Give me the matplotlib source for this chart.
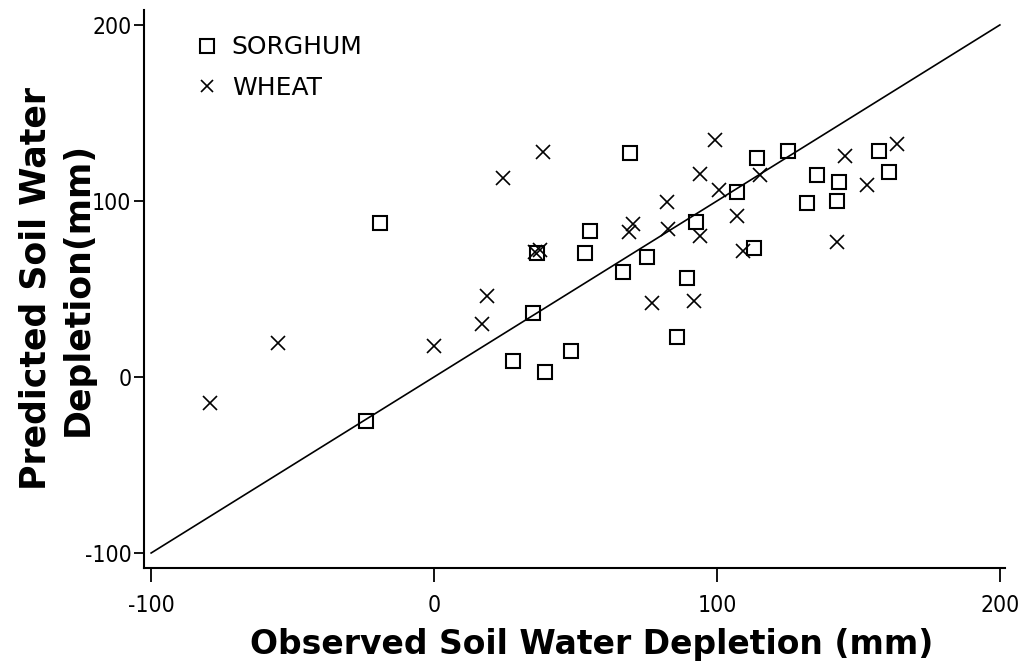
import numpy as np
import matplotlib
matplotlib.use("Agg")
import matplotlib.pyplot as plt

plt.rcParams["axes.unicode_minus"] = False

# observed vs predicted soil water depletion (mm)
sorghum_obs = [-19.1, -24.0, 34.9, 28.0, 39.2, 48.3, 36.3, 53.4, 55.1, 66.9,
               75.4, 69.3, 85.8, 89.3, 92.6, 107.0, 114.0, 125.2, 113.2, 131.9,
               135.4, 143.2, 142.3, 157.4, 160.9]
sorghum_pred = [87.3, -25.0, 36.5, 9.1, 2.7, 14.9, 70.3, 70.3, 83.0, 59.5,
                68.4, 127.4, 22.5, 56.4, 88.2, 105.3, 124.6, 128.4, 73.5, 98.7,
                114.8, 110.6, 100.0, 128.6, 116.6]

wheat_obs = [-79.2, -55.2, 0.1, 16.9, 18.6, 24.5, 38.4, 35.7, 37.5, 68.9,
             70.2, 77.1, 82.2, 82.6, 94.0, 94.0, 91.9, 99.3, 100.7, 107.0,
             109.1, 115.2, 142.3, 145.2, 152.9, 163.5]
wheat_pred = [-14.9, 19.5, 17.6, 29.9, 46.2, 113.2, 128.0, 71.2, 72.2, 82.6,
              86.8, 42.2, 99.6, 83.9, 80.1, 115.3, 43.2, 134.4, 106.3, 91.5,
              71.8, 114.8, 76.5, 125.6, 109.1, 132.2]

one_to_one = [-100, 200]
ticks = [-100, 0, 100, 200]

fig = plt.figure(figsize=(10.26, 6.65), dpi=100)
ax = fig.add_axes([0.1404, 0.1459, 0.8391, 0.8391])

ax.plot(one_to_one, one_to_one, color="black", lw=1.2, zorder=1)
ax.plot(sorghum_obs, sorghum_pred, ls="none", marker="s", ms=10.5,
        mfc="none", mec="black", mew=1.5, label="SORGHUM", zorder=2)
ax.plot(wheat_obs, wheat_pred, ls="none", marker="x", ms=9.5,
        mec="black", mew=1.2, label="WHEAT", zorder=2)

ax.set_xlim(-102.5, 201.8)
ax.set_ylim(-108.5, 208.5)
ax.set_xticks(ticks)
ax.set_yticks(ticks)

for s in ["top", "right"]:
    ax.spines[s].set_visible(False)
for s in ["left", "bottom"]:
    ax.spines[s].set_linewidth(1.5)

ax.tick_params(axis="x", direction="out", length=10, width=1.3, pad=9)
ax.tick_params(axis="y", direction="out", length=7, width=1.3, pad=2)
for lab in ax.get_xticklabels() + ax.get_yticklabels():
    lab.set_family("DejaVu Sans")
    lab.set_stretch("condensed")
    lab.set_fontsize(16.5)

ax.set_xlabel("Observed Soil Water Depletion (mm)", fontsize=23.8,
              fontweight="bold", family="DejaVu Sans")
ax.xaxis.set_label_coords(0.52, -0.108)
ax.set_ylabel("Predicted Soil Water\nDepletion(mm)", fontsize=25,
              fontweight="bold", family="DejaVu Sans", linespacing=1.3)
ax.yaxis.set_label_coords(-0.057, 0.50)

leg = ax.legend(loc="upper left", bbox_to_anchor=(0.035, 0.995), frameon=False,
                handlelength=0.8, handletextpad=0.6, labelspacing=0.65,
                prop={"family": "DejaVu Sans", "size": 18}, markerscale=0.9)

fig.savefig("out.png", dpi=100)
